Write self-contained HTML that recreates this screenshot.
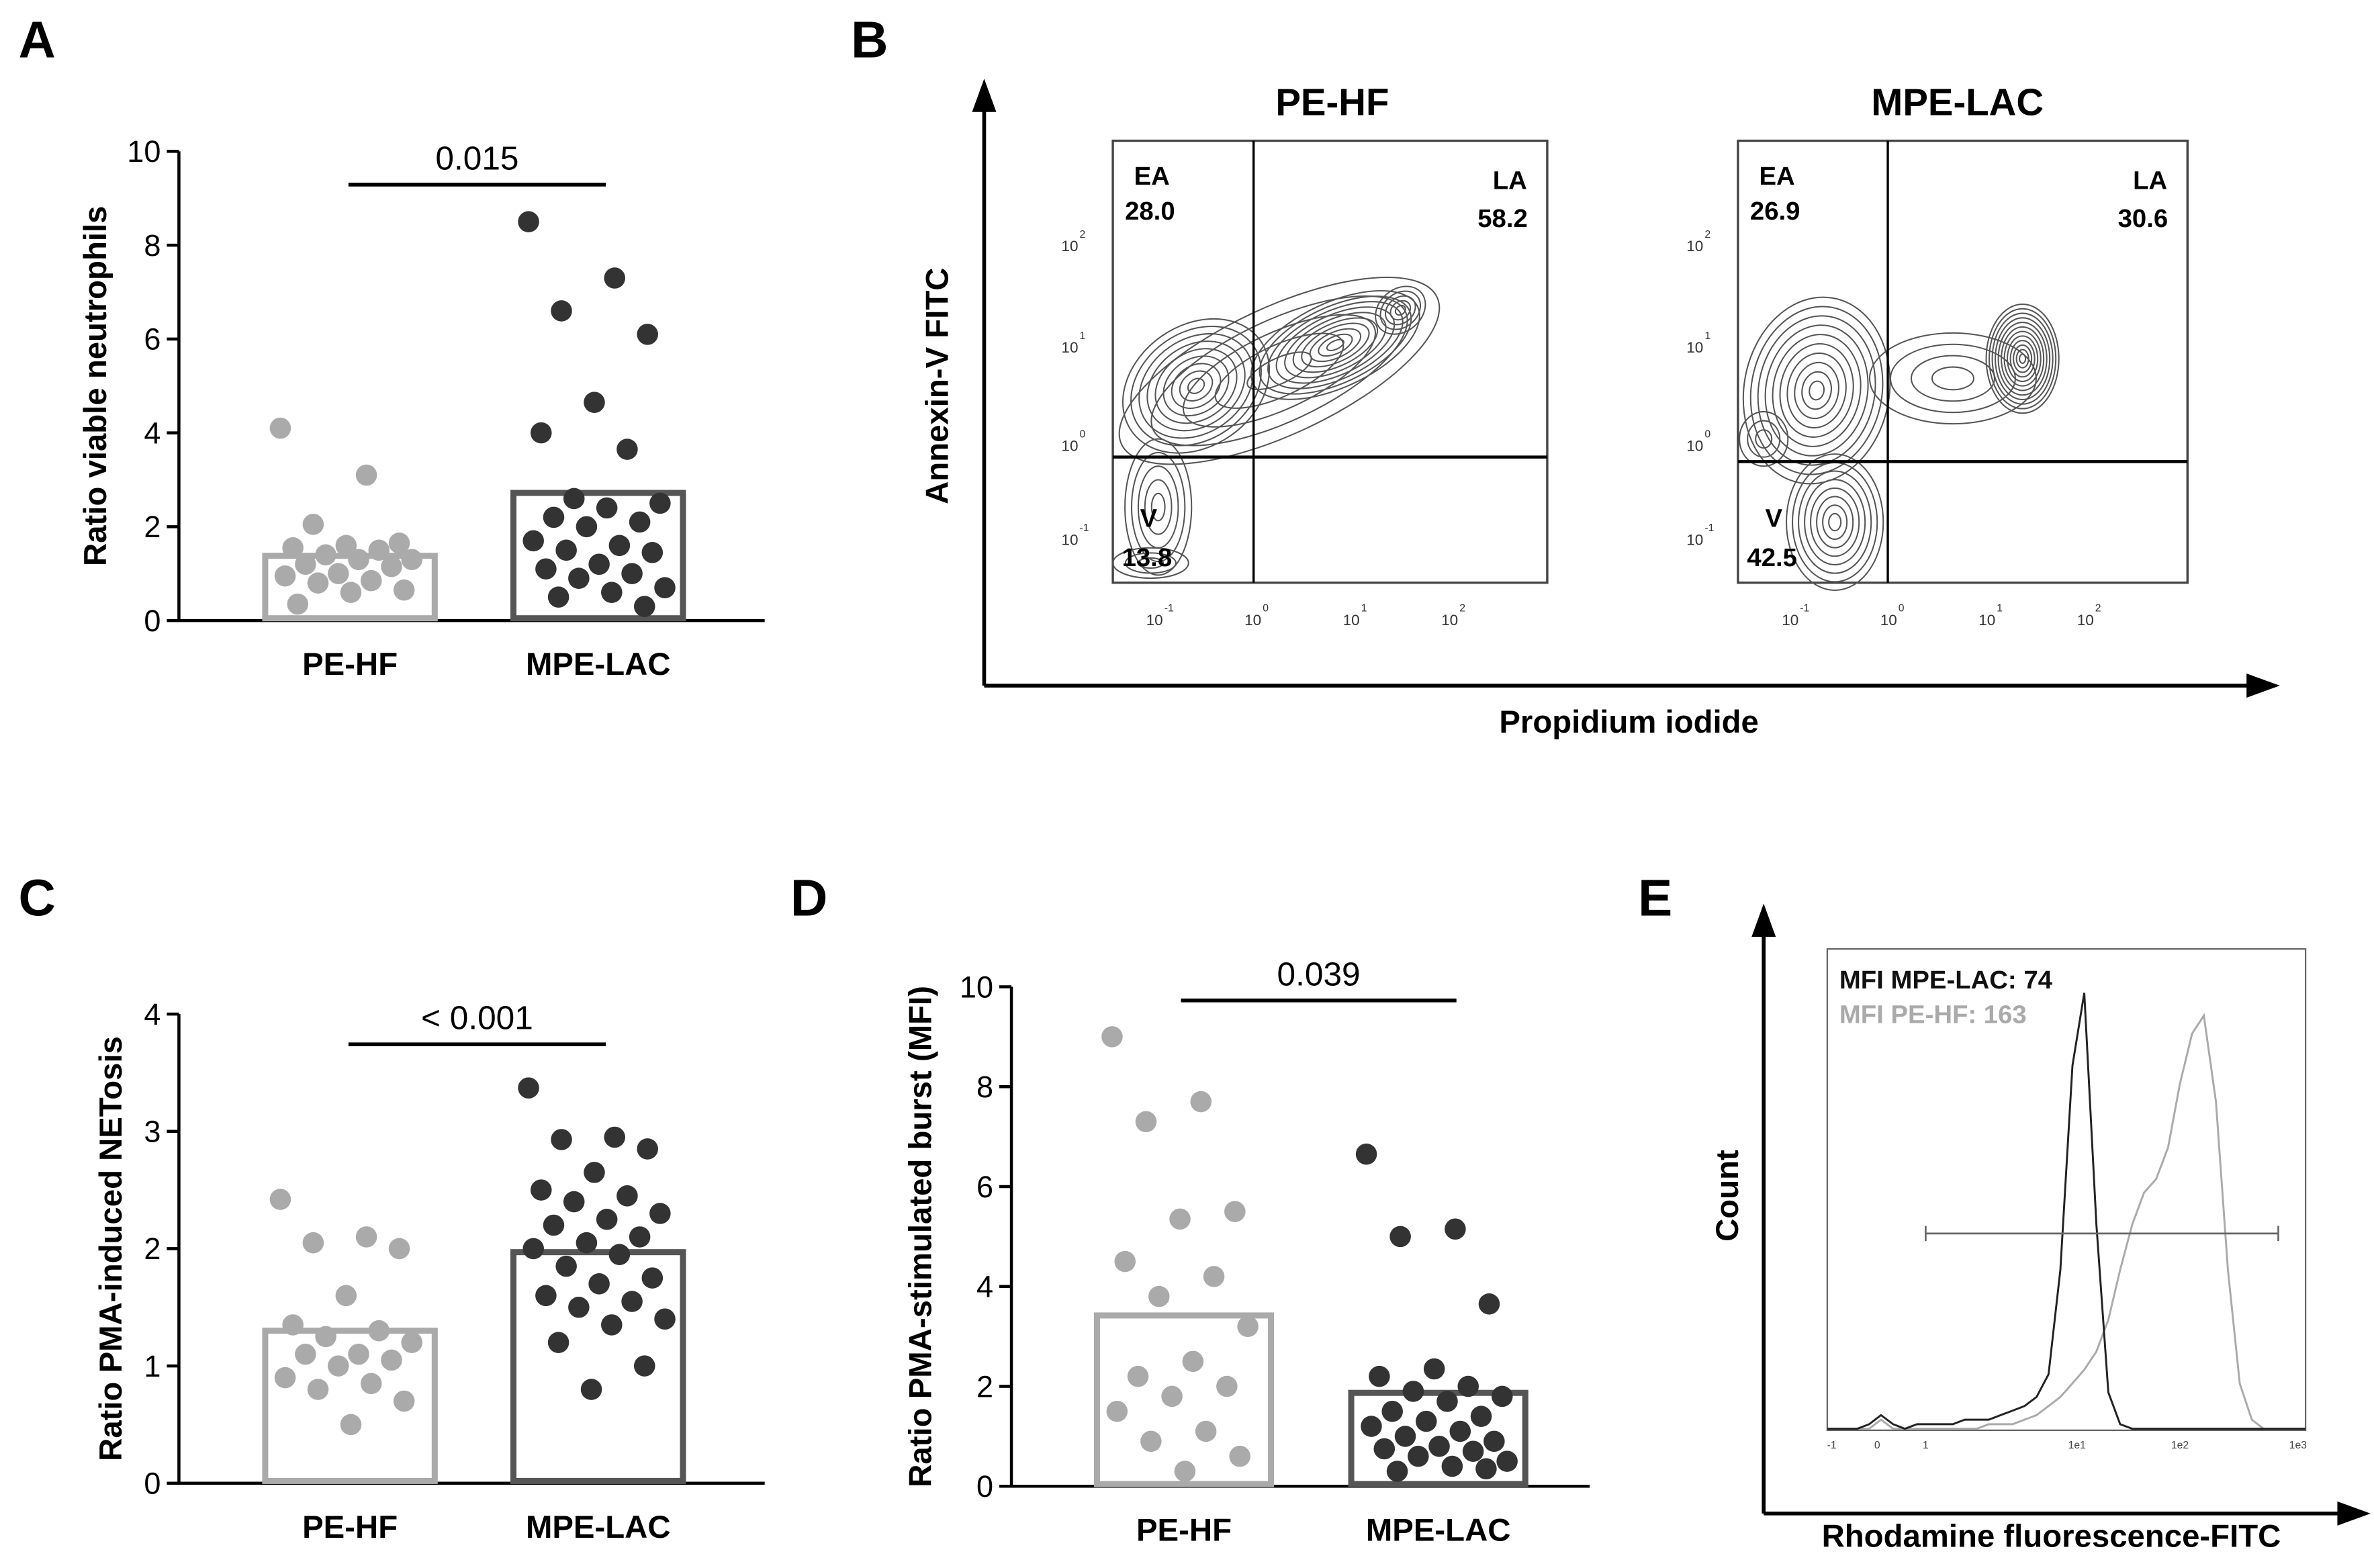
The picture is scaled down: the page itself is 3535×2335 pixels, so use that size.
<!DOCTYPE html>
<html><head><meta charset="utf-8">
<style>
html,body{margin:0;padding:0;background:#fff;}
svg{display:block;}
text{font-family:"Liberation Sans",Arial,sans-serif;}
.b{font-weight:bold;}
</style></head>
<body>
<svg id="fig" width="3535" height="2335" viewBox="0 0 1568 1036" xmlns="http://www.w3.org/2000/svg">
<rect x="0" y="0" width="1568" height="1036" fill="#fff"/>
<g id="root"></g>
</svg>
<script>
// ---------- Panel A data ----------
const aCategories = ["PE-HF","MPE-LAC"];
const aBarMeans = [1.38, 2.72];
const aTicks = [0,2,4,6,8,10];
const aPEHF = [4.1,3.1,2.05,1.65,1.6,1.55,1.5,1.4,1.3,1.3,1.2,1.15,1.0,0.95,0.85,0.8,0.65,0.6,0.35];
const aMPELAC = [8.5,7.3,6.6,6.1,4.65,4.0,3.65,2.6,2.5,2.4,2.2,2.1,2.0,1.7,1.6,1.5,1.45,1.2,1.1,1.0,0.9,0.7,0.6,0.5,0.3];
// ---------- Panel C data ----------
const cCategories = ["PE-HF","MPE-LAC"];
const cBarMeans = [1.3, 1.97];
const cTicks = [0,1,2,3,4];
const cPEHF = [2.42,2.1,2.05,2.0,1.6,1.35,1.3,1.25,1.2,1.1,1.1,1.05,1.0,0.9,0.85,0.8,0.7,0.5];
const cMPELAC = [3.37,2.95,2.93,2.85,2.65,2.5,2.45,2.4,2.3,2.25,2.2,2.1,2.05,2.0,1.95,1.85,1.75,1.7,1.6,1.55,1.5,1.4,1.35,1.2,1.0,0.8];
// ---------- Panel D data ----------
const dCategories = ["PE-HF","MPE-LAC"];
const dBarMeans = [3.42, 1.87];
const dTicks = [0,2,4,6,8,10];
const dPEHF = [9.0,7.7,7.3,5.5,5.35,4.5,4.2,3.8,3.2,2.5,2.2,2.0,1.8,1.5,1.1,0.9,0.6,0.3];
const dMPELAC = [6.65,5.15,5.0,3.65,2.35,2.2,2.0,1.9,1.8,1.7,1.5,1.4,1.3,1.2,1.1,1.0,0.9,0.8,0.75,0.7,0.6,0.5,0.4,0.3,0.35];
// ---------- Panel E histogram data (normalized counts per bin) ----------
const eMpeLacCounts = [0,0,0,0.01,0.03,0.01,0,0.01,0.01,0.01,0.01,0.02,0.02,0.02,0.03,0.04,0.05,0.07,0.12,0.35,0.8,0.96,0.45,0.08,0.01,0,0,0,0,0,0,0,0,0,0,0,0,0,0,0];
const ePeHfCounts = [0,0,0,0,0.02,0,0,0,0,0,0,0,0,0.01,0.01,0.01,0.02,0.03,0.05,0.07,0.1,0.13,0.17,0.24,0.35,0.45,0.52,0.55,0.62,0.76,0.87,0.91,0.72,0.35,0.1,0.02,0,0,0,0];

const NS="http://www.w3.org/2000/svg";
const root=document.getElementById('root');
function el(tag,attrs,parent,txt){const e=document.createElementNS(NS,tag);for(const k in attrs)e.setAttribute(k,attrs[k]);if(txt!==undefined)e.textContent=txt;(parent||root).appendChild(e);return e;}

function barPanel(cfg){
  const g=el('g',{});
  
  
  const y=v=>cfg.y0-(v-cfg.ticks[0])/(cfg.ticks[cfg.ticks.length-1]-cfg.ticks[0])*(cfg.y0-cfg.y1);
  const t=el('text',{x:cfg.letterX,y:cfg.letterY,'font-size':34,class:'b'},g,cfg.letter);
  
  
  el('line',{x1:cfg.ax,y1:cfg.y1,x2:cfg.ax,y2:cfg.y0,stroke:'#000','stroke-width':2},g);
  el('line',{x1:cfg.ax,y1:cfg.y0,x2:cfg.axEnd,y2:cfg.y0,stroke:'#000','stroke-width':2},g);
  cfg.ticks.forEach(v=>{
    el('line',{x1:cfg.ax-8,y1:y(v),x2:cfg.ax,y2:y(v),stroke:'#000','stroke-width':2},g);
    const tl=el('text',{x:cfg.ax-12,y:y(v)+7,'font-size':20,'text-anchor':'end'},g,String(v));
    
    
  });
  const yt=el('text',{x:0,y:0,'font-size':21,class:'b','text-anchor':'middle',transform:`translate(${cfg.titleX},${(cfg.y0+cfg.y1)/2}) rotate(-90)`},g,cfg.title);
  
  
  const colors=['#aaaaaa','#333333'];
  const strokes=['#aaaaaa','#555555'];
  cfg.series.forEach((vals,i)=>{
    const cx=cfg.centers[i];
    const r=el('rect',{x:cx-cfg.bw/2,y:y(cfg.means[i]),width:cfg.bw,height:cfg.y0-y(cfg.means[i])-1.5,fill:'none',stroke:strokes[i],'stroke-width':4},g);
    
    
    vals.forEach((v,k)=>{
      const j=(((k*0.618034)%1)-0.5)*2*(cfg.bw/2-10);
      const c=el('circle',{cx:cx+j,cy:y(v),r:7,fill:colors[i]},g);
      
      
    });
    const cl=el('text',{x:cx,y:cfg.y0+36,'font-size':21,class:'b','text-anchor':'middle'},g,cfg.cats[i]);
    
    
  });
  el('line',{x1:cfg.sig[0],y1:cfg.sigY,x2:cfg.sig[1],y2:cfg.sigY,stroke:'#000','stroke-width':2.5},g);
  const st=el('text',{x:(cfg.sig[0]+cfg.sig[1])/2,y:cfg.sigY-10,'font-size':22,'text-anchor':'middle'},g,cfg.sigText);
  
  
}

barPanel({name:'panel-a',letter:'A',letterX:12,letterY:38,ax:118,axEnd:505,y0:410,y1:100,ticks:aTicks,title:'Ratio viable neutrophils',titleX:70,
  centers:[231,395],bw:112,means:aBarMeans,series:[aPEHF,aMPELAC],cats:aCategories,sig:[230,400],sigY:122,sigText:'0.015'});
barPanel({name:'panel-c',letter:'C',letterX:12,letterY:605,ax:118,axEnd:505,y0:980,y1:670,ticks:cTicks,title:'Ratio PMA-induced NETosis',titleX:80,
  centers:[231,395],bw:112,means:cBarMeans,series:[cPEHF,cMPELAC],cats:cCategories,sig:[230,400],sigY:690,sigText:'< 0.001'});
barPanel({name:'panel-d',letter:'D',letterX:522,letterY:605,ax:668,axEnd:1050,y0:982,y1:652,ticks:dTicks,title:'Ratio PMA-stimulated burst (MFI)',titleX:615,
  centers:[782,950],bw:115,means:dBarMeans,series:[dPEHF,dMPELAC],cats:dCategories,sig:[780,962],sigY:661,sigText:'0.039'});

// ---------- Panel B ----------
(function(){
  const g=el('g',{});
  
  
  el('text',{x:562,y:38,'font-size':34,class:'b'},g,'B');
  el('line',{x1:650,y1:453,x2:650,y2:70,stroke:'#000','stroke-width':2.5},g);
  el('polygon',{points:'650,52 642,74 658,74',fill:'#000'},g);
  el('line',{x1:650,y1:453,x2:1485,y2:453,stroke:'#000','stroke-width':2.5},g);
  el('polygon',{points:'1506,453 1484,445 1484,461',fill:'#000'},g);
  el('text',{x:0,y:0,'font-size':21,class:'b','text-anchor':'middle',transform:'translate(626,255) rotate(-90)'},g,'Annexin-V FITC');
  el('text',{x:1076,y:484,'font-size':21,class:'b','text-anchor':'middle'},g,'Propidium iodide');
  const plots=[
    {title:'PE-HF',tx:880,x0:735,x1:1022,qx:828,qy:302,ea:'28.0',la:'58.2',v:'13.8',
     blobs:[[845,245,115,42,-25,5],[790,255,52,40,-35,9],[882,228,60,28,-25,10],[925,205,18,14,-40,5],[765,335,22,45,0,5],[760,372,25,10,0,3]]},
    {title:'MPE-LAC',tx:1293,x0:1148,x1:1445,qx:1247,qy:305,ea:'26.9',la:'30.6',v:'42.5',
     blobs:[[1200,258,48,62,10,10],[1336,237,24,36,0,12],[1290,250,55,30,0,4],[1212,345,32,45,0,8],[1165,290,16,18,0,3]]}
  ];
  plots.forEach(p=>{
    const pg=el('g',{},g);
    
    
    el('text',{x:p.tx,y:76,'font-size':25,class:'b','text-anchor':'middle'},pg,p.title);
    el('rect',{x:p.x0,y:93,width:p.x1-p.x0,height:292,fill:'none',stroke:'#444','stroke-width':1.5},pg);
    p.blobs.forEach(b=>{
      for(let k=1;k<=b[5];k++){
        const f=k/b[5];
        el('ellipse',{cx:b[0],cy:b[1],rx:b[2]*f,ry:b[3]*f,fill:'none',stroke:'#555','stroke-width':0.9,transform:`rotate(${b[4]},${b[0]},${b[1]})`},pg);
      }
    });
    el('line',{x1:p.qx,y1:93,x2:p.qx,y2:385,stroke:'#000','stroke-width':1.5},pg);
    el('line',{x1:p.x0,y1:p.qy,x2:p.x1,y2:p.qy,stroke:'#000','stroke-width':2},pg);
    el('text',{x:p.x0+14,y:122,'font-size':17,class:'b'},pg,'EA');
    el('text',{x:p.x0+8,y:145,'font-size':17,class:'b'},pg,p.ea);
    el('text',{x:p.x1-36,y:125,'font-size':17,class:'b'},pg,'LA');
    el('text',{x:p.x1-46,y:150,'font-size':17,class:'b'},pg,p.la);
    el('text',{x:p.x0+18,y:348,'font-size':17,class:'b'},pg,'V');
    el('text',{x:p.x0+6,y:374,'font-size':17,class:'b'},pg,p.v);
    [['2',158],['1',225],['0',290],['-1',352]].forEach(t=>{
      el('text',{x:p.x0-34,y:t[1]+8,'font-size':10,fill:'#333'},pg,'10');
      el('text',{x:p.x0-22,y:t[1]-1,'font-size':7,fill:'#333'},pg,t[0]);
    });
    const xs=p.title==='PE-HF'?[[-1,765],[0,830],[1,895],[2,960]]:[[-1,1185],[0,1250],[1,1315],[2,1380]];
    xs.forEach(t=>{
      el('text',{x:t[1]-8,y:413,'font-size':10,fill:'#333'},pg,'10');
      el('text',{x:t[1]+4,y:404,'font-size':7,fill:'#333'},pg,String(t[0]));
    });
  });
})();

// ---------- Panel E ----------
(function(){
  const g=el('g',{});
  
  
  el('text',{x:1082,y:605,'font-size':34,class:'b'},g,'E');
  el('line',{x1:1165,y1:1000,x2:1165,y2:615,stroke:'#000','stroke-width':2.5},g);
  el('polygon',{points:'1165,597 1157,619 1173,619',fill:'#000'},g);
  el('line',{x1:1165,y1:1000,x2:1545,y2:1000,stroke:'#000','stroke-width':2.5},g);
  el('polygon',{points:'1566,1000 1544,992 1544,1008',fill:'#000'},g);
  el('text',{x:0,y:0,'font-size':21,class:'b','text-anchor':'middle',transform:'translate(1148,790) rotate(-90)'},g,'Count');
  el('text',{x:1355,y:1022,'font-size':21,class:'b','text-anchor':'middle'},g,'Rhodamine fluorescence-FITC');
  el('rect',{x:1207,y:627,width:316,height:318,fill:'none',stroke:'#666','stroke-width':1},g);
  const bx0=1207,bw=316/eMpeLacCounts.length,base=944;
  const yv=v=>base-v*300;
  function path(arr,stroke,name){
    let d='M'+bx0+','+base;
    arr.forEach((v,i)=>{d+=' L'+(bx0+(i+0.5)*bw).toFixed(1)+','+yv(v).toFixed(1);});
    d+=' L'+(bx0+316)+','+base;
    const p=el('path',{d:d,fill:'none',stroke:stroke,'stroke-width':1.3},g);
    
    
  }
  path(ePeHfCounts,'#aaaaaa','histogram-pe-hf');
  path(eMpeLacCounts,'#222222','histogram-mpe-lac');
  el('line',{x1:1272,y1:815,x2:1505,y2:815,stroke:'#666','stroke-width':1.2},g);
  el('line',{x1:1272,y1:810,x2:1272,y2:820,stroke:'#666','stroke-width':1.2},g);
  el('line',{x1:1505,y1:810,x2:1505,y2:820,stroke:'#666','stroke-width':1.2},g);
  [['-1',1210],['0',1240],['1',1272],['1e1',1372],['1e2',1440],['1e3',1518]].forEach(t=>{
    el('text',{x:t[1],y:957,'font-size':7,fill:'#444','text-anchor':'middle'},g,t[0]);
  });
  const l1=el('text',{x:1215,y:653,'font-size':17,class:'b',fill:'#111'},g,'MFI MPE-LAC: 74');
  
  
  const l2=el('text',{x:1215,y:676,'font-size':17,class:'b',fill:'#aaaaaa'},g,'MFI PE-HF: 163');
  
  
})();
</script>
</body></html>
